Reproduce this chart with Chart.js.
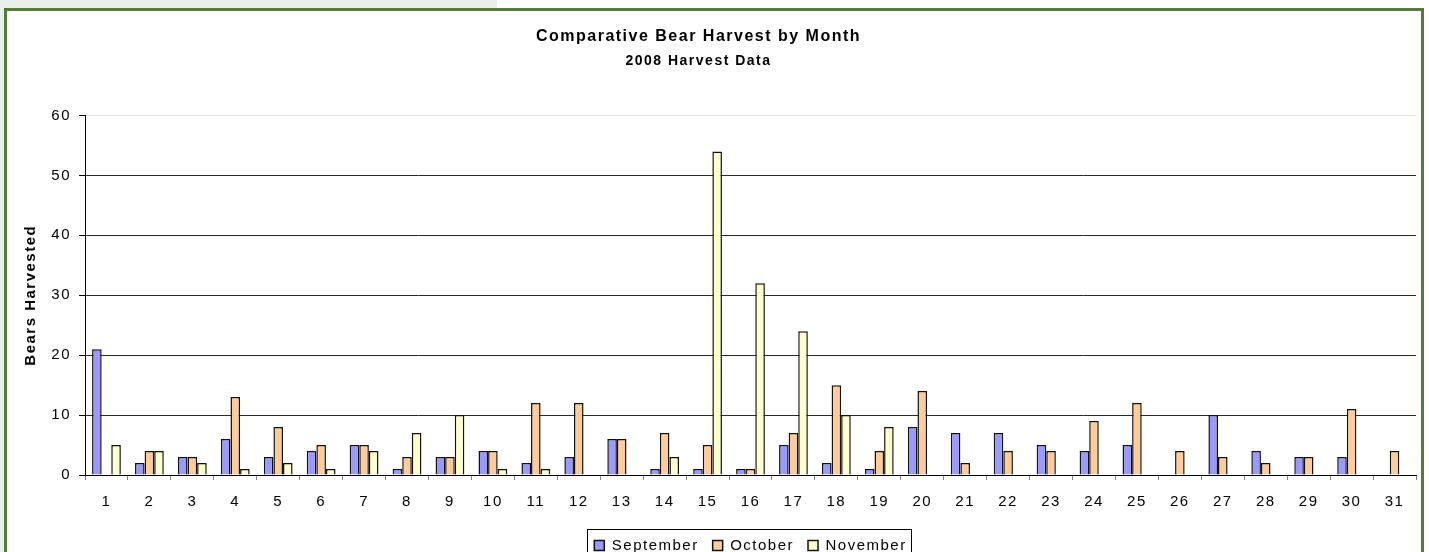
<!DOCTYPE html>
<html>
<head>
<meta charset="utf-8">
<script src="https://cdn.jsdelivr.net/npm/chart.js@4.4.1/dist/chart.umd.min.js"></script>
<style>
    html, body { margin: 0; padding: 0; width: 1429px; height: 552px; overflow: hidden; background: #fff; }
    #shade { position: absolute; left: 0; top: 0; width: 497px; height: 552px; background: #eaefe9; }
    #frame { position: absolute; left: 4px; top: 8px; width: 1414px; height: 600px; border: 3px solid #557b3a; background: #fff; }
    #chartBox { position: absolute; left: -19px; top: 0; width: 1440px; height: 563px; }
</style>
</head>
<body>
<div id="shade"></div>
<div id="frame"></div>
<div id="chartBox"><canvas id="harvestChart" width="1440" height="563"></canvas></div>
<script>
const days = Array.from({ length: 31 }, (_, i) => String(i + 1));

const september = [21, 2, 3, 6, 3, 4, 5, 1, 3, 4, 2, 3, 6, 1, 1, 1, 5, 2, 1, 8, 7, 7, 5, 4, 5, null, 10, 4, 3, 3, null];
const october   = [null, 4, 3, 13, 8, 5, 5, 3, 3, 4, 12, 12, 6, 7, 5, 1, 7, 15, 4, 14, 2, 4, 4, 9, 12, 4, 3, 2, 3, 11, 4];
const november  = [5, 4, 2, 1, 2, 1, 4, 7, 10, 1, 1, null, null, 3, 54, 32, 24, 10, 8,
                   null, null, null, null, null, null, null, null, null, null, null, null];

const yTicks = [0, 10, 20, 30, 40, 50, 60];

const FONT = "'Liberation Sans', Arial, sans-serif";
Chart.defaults.font.family = FONT;
Chart.defaults.color = "#000";

// Excel-ish wide text
const spacing = {
    id: "spacing",
    beforeUpdate(chart) { chart.ctx.letterSpacing = "1.5px"; },
    beforeDraw(chart) { chart.ctx.letterSpacing = "1.5px"; }
};

// box round the legend
const legendFrame = {
    id: "legendFrame",
    afterDraw(chart) {
        const boxes = chart.legend.legendHitBoxes;
        if (!boxes || !boxes.length) return;
        const left = Math.min(...boxes.map(b => b.left)) - 7;
        const right = Math.max(...boxes.map(b => b.left + b.width)) + 5;
        const top = boxes[0].top - 9;
        const bottom = boxes[0].top + boxes[0].height + 7;
        const ctx = chart.ctx;
        ctx.save();
        ctx.strokeStyle = "#000";
        ctx.lineWidth = 1;
        ctx.strokeRect(Math.round(left) + 0.5, Math.round(top) + 0.5, Math.round(right - left), Math.round(bottom - top));
        ctx.restore();
    }
};

const ctx = document.getElementById("harvestChart").getContext("2d");
new Chart(ctx, {
    type: "bar",
    data: {
        labels: days,
        datasets: [
            { label: "September", data: september, backgroundColor: "#9999ff" },
            { label: "October", data: october, backgroundColor: "#ffcc99" },
            { label: "November", data: november, backgroundColor: "#ffffcc" }
        ].map(d => Object.assign(d, { borderColor: "#111", borderWidth: 1.5, categoryPercentage: 0.67, barPercentage: 1 }))
    },
    options: {
        responsive: false,
        animation: false,
        layout: { padding: { top: 0, right: 5, bottom: 0, left: 0 } },
        plugins: {
            title: {
                display: true,
                text: "Comparative Bear Harvest by Month",
                font: { size: 16, weight: "bold" },
                color: "#000",
                padding: { top: 27, bottom: 0 }
            },
            subtitle: {
                display: true,
                text: "2008 Harvest Data",
                font: { size: 14, weight: "bold" },
                color: "#000",
                padding: { top: 6.5, bottom: 46 }
            },
            legend: {
                position: "bottom",
                fullSize: false,
                labels: {
                    boxWidth: 10,
                    boxHeight: 10,
                    padding: 14,
                    font: { size: 15 },
                    color: "#000"
                }
            },
            tooltip: { enabled: false }
        },
        scales: {
            x: {
                grid: { display: true, drawOnChartArea: false, drawTicks: true, tickLength: 5, tickColor: "#808080" },
                border: { color: "#000" },
                ticks: { font: { size: 15 }, color: "#000", padding: 13, maxRotation: 0, autoSkip: false },
                afterFit(scale) { scale.height = 49; }
            },
            y: {
                min: 0,
                max: 60,
                afterBuildTicks(scale) { scale.ticks = yTicks.map(v => ({ value: v })); },
                grid: {
                    color: c => (c.tick && c.tick.value === 60 ? "#e3e3e3" : "#2a2a2a"),
                    tickColor: "#000",
                    tickLength: 6
                },
                border: { color: "#000" },
                ticks: { font: { size: 15 }, color: "#000", padding: 8 },
                title: {
                    display: true,
                    text: "Bears Harvested",
                    font: { size: 15, weight: "bold" },
                    color: "#000",
                    padding: { top: 41, bottom: 0 }
                },
                afterFit(scale) { scale.width = 104; }
            }
        }
    },
    plugins: [spacing, legendFrame]
});
</script>
</body>
</html>
